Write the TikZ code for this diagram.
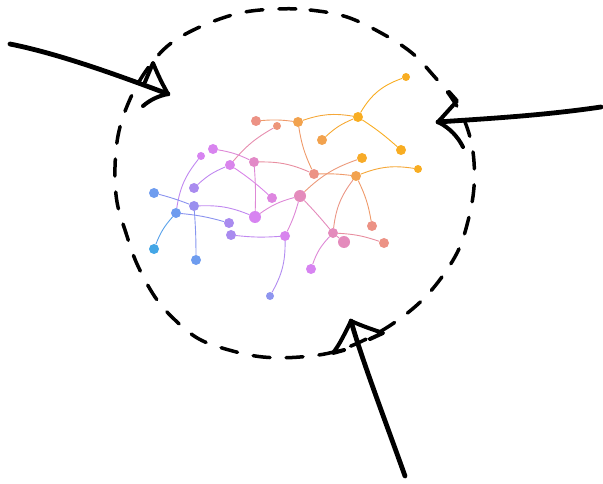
\documentclass[tikz,border=0pt]{standalone}
\usetikzlibrary{calc}

% node palette: blue -> violet -> pink -> salmon -> amber
\definecolor{cSky}{HTML}{43A6E6}
\definecolor{cBlue}{HTML}{6E9CEF}
\definecolor{cPeri}{HTML}{8E95EF}
\definecolor{cPurp}{HTML}{A98BEF}
\definecolor{cViol}{HTML}{D784F1}
\definecolor{cMag}{HTML}{DE86E0}
\definecolor{cPink}{HTML}{E48BBC}
\definecolor{cSalm}{HTML}{EC9285}
\definecolor{cOrng}{HTML}{F2A24E}
\definecolor{cAmbr}{HTML}{F8AD22}

\tikzset{
  dot/.style={circle, inner sep=0pt, minimum size=10pt, draw=none},
  dotS/.style={dot, minimum size=8pt},
  dotL/.style={dot, minimum size=12pt},
  link/.style={line width=0.9pt},
  sketch/.style={line width=4pt, line cap=round, line join=round, black},
  ring/.style={line width=3.5pt, line cap=round, dash pattern=on 17pt off 16pt, black}
}

\begin{document}
\begin{tikzpicture}[x=1pt, y=-1pt]
\useasboundingbox (0,0) rectangle (603,484);

% ---- dashed hand-drawn ring ----
\draw[ring] plot[smooth cycle, tension=0.6] coordinates {
  (277,9) (310,10) (347,17) (383,34) (412,53) (433,75) (451,97) (465,122)
  (473,152) (474,187) (468,221) (457,253) (435,286) (410,311) (376,334)
  (337,351) (300,357) (263,357) (229,350) (199,339) (175,320) (155,297)
  (137,264) (126,233) (117,202) (115,167) (119,131) (131,97) (148,68)
  (170,44) (202,26) (240,13)};

% ---- network nodes ----
\node[dotS, fill=cAmbr] (n1)  at (406,77)  {};
\node[dot,  fill=cAmbr] (n2)  at (358,117) {};
\node[dot,  fill=cOrng] (n3)  at (298,122) {};
\node[dot,  fill=cSalm] (n4)  at (256,121) {};
\node[dotS, fill=cSalm!80!cOrng] (n5) at (277,126) {};
\node[dot,  fill=cOrng] (n6)  at (322,140) {};
\node[dot,  fill=cAmbr] (n7)  at (401,150) {};
\node[dot,  fill=cAmbr!85!cOrng] (n8) at (362,158) {};
\node[dotS, fill=cAmbr] (n9)  at (418,169) {};
\node[dot,  fill=cSalm] (n10) at (314,174) {};
\node[dot,  fill=cOrng] (n11) at (356,176) {};
\node[dot,  fill=cViol!90!cMag] (n12) at (213,149) {};
\node[dotS, fill=cViol] (n13) at (201,156) {};
\node[dot,  fill=cViol!70!cMag] (n14) at (230,165) {};
\node[dot,  fill=cPink!70!cMag] (n15) at (254,162) {};
\node[dot,  fill=cPurp] (n16) at (194,188) {};
\node[dot,  fill=cBlue] (n17) at (154,193) {};
\node[dot,  fill=cPurp!75!cBlue] (n18) at (194,206) {};
\node[dot,  fill=cBlue] (n19) at (176,213) {};
\node[dot,  fill=cMag] (n20) at (272,198) {};
\node[dotL, fill=cPink] (n21) at (300,196) {};
\node[dotL, fill=cViol] (n22) at (255,217) {};
\node[dot,  fill=cPurp] (n23) at (229,223) {};
\node[dot,  fill=cPurp] (n24) at (231,235) {};
\node[dot,  fill=cViol!80!cMag] (n25) at (285,236) {};
\node[dot,  fill=cSalm] (n26) at (372,226) {};
\node[dot,  fill=cPink] (n27) at (333,233) {};
\node[dotL, fill=cPink] (n28) at (344,242) {};
\node[dot,  fill=cSalm] (n29) at (384,243) {};
\node[dot,  fill=cSky] (n30) at (154,249) {};
\node[dot,  fill=cBlue] (n31) at (196,260) {};
\node[dot,  fill=cViol] (n32) at (311,269) {};
\node[dotS, fill=cPeri] (n33) at (270,296) {};

% ---- network links ----
\draw[link, draw=cAmbr]             (n2)  to[bend left=20] (n1);
\draw[link, draw=cSalm!50!cOrng]    (n4)  to[bend left=6]  (n3);
\draw[link, draw=cOrng!50!cAmbr]    (n3)  to[bend left=14] (n2);
\draw[link, draw=cAmbr!60!cOrng]    (n2)  to[bend right=10] (n6);
\draw[link, draw=cAmbr]             (n2)  to[bend left=4]  (n7);
\draw[link, draw=cOrng!50!cSalm]    (n3)  to[bend right=8] (n10);
\draw[link, draw=cSalm!55!cMag]     (n5)  to[bend right=10] (n14);
\draw[link, draw=cViol!50!cPink]    (n12) to[bend left=8]  (n15);
\draw[link, draw=cViol!50!cPurp]    (n13) to[bend right=15] (n19);
\draw[link, draw=cViol!50!cPurp]    (n14) to[bend right=10] (n16);
\draw[link, draw=cViol!50!cMag]     (n14) to[bend left=4]  (n20);
\draw[link, draw=cPink!50!cViol]    (n15) to[bend left=3]  (n22);
\draw[link, draw=cPink!50!cSalm]    (n15) to[bend left=12] (n10);
\draw[link, draw=cSalm!50!cOrng]    (n10) to[bend left=4]  (n11);
\draw[link, draw=cPink!40!cOrng]    (n21) to[bend left=12] (n8);
\draw[link, draw=cOrng!50!cAmbr]    (n11) to[bend left=15] (n9);
\draw[link, draw=cOrng!50!cPink]    (n11) to[bend right=15] (n27);
\draw[link, draw=cOrng!50!cSalm]    (n11) to[bend left=8]  (n26);
\draw[link, draw=cPink!50!cViol]    (n21) to[bend right=10] (n22);
\draw[link, draw=cPink!50!cViol]    (n21) to[bend left=5]  (n25);
\draw[link, draw=cPink]             (n21) to[bend left=2]  (n27);
\draw[link, draw=cPink]             (n27) -- (n28);
\draw[link, draw=cPink!50!cSalm]    (n27) to[bend left=8]  (n29);
\draw[link, draw=cPink!50!cViol]    (n27) to[bend right=12] (n32);
\draw[link, draw=cViol!50!cPeri]    (n25) to[bend left=15] (n33);
\draw[link, draw=cPurp!50!cViol]    (n24) to[bend right=5] (n25);
\draw[link, draw=cPurp!50!cViol]    (n18) to[bend left=12] (n22);
\draw[link, draw=cPurp!40!cBlue]    (n18) to[bend left=2]  (n31);
\draw[link, draw=cBlue!50!cPurp]    (n17) to[bend left=3]  (n18);
\draw[link, draw=cBlue!50!cPurp]    (n19) to[bend left=5]  (n23);
\draw[link, draw=cBlue!50!cSky]     (n19) to[bend right=10] (n30);

% ---- hand-drawn arrows pointing at the ring ----
% arrow from the upper left
\coordinate (a1s) at (10,44);
\coordinate (a1t) at (168,94);
\draw[sketch, line width=4.8pt] (a1s) .. controls (60,54) and (120,76) .. (a1t);
\draw[sketch] (a1t) .. controls (160,80) and (156,70) .. (153,63) -- (145,82);
\draw[sketch] (a1t) .. controls (158,96) and (150,100) .. (143,106);

% arrow from the right
\coordinate (a2s) at (601,107);
\coordinate (a2t) at (438,122);
\draw[sketch, line width=4.8pt] (a2s) .. controls (540,116) and (480,119) .. (a2t);
\draw[sketch] (a2t) -- (457,101) -- (449,92);
\draw[sketch] (a2t) .. controls (450,128) and (458,137) .. (463,147);

% arrow from below
\coordinate (a3s) at (405,476);
\coordinate (a3t) at (351,321);
\draw[sketch, line width=4.8pt] (a3s) .. controls (385,420) and (362,360) .. (a3t);
\draw[sketch] (a3t) .. controls (345,333) and (340,344) .. (333,353) -- (344,350);
\draw[sketch] (a3t) .. controls (362,326) and (374,330) .. (383,333) -- (370,339);

\end{tikzpicture}
\end{document}
